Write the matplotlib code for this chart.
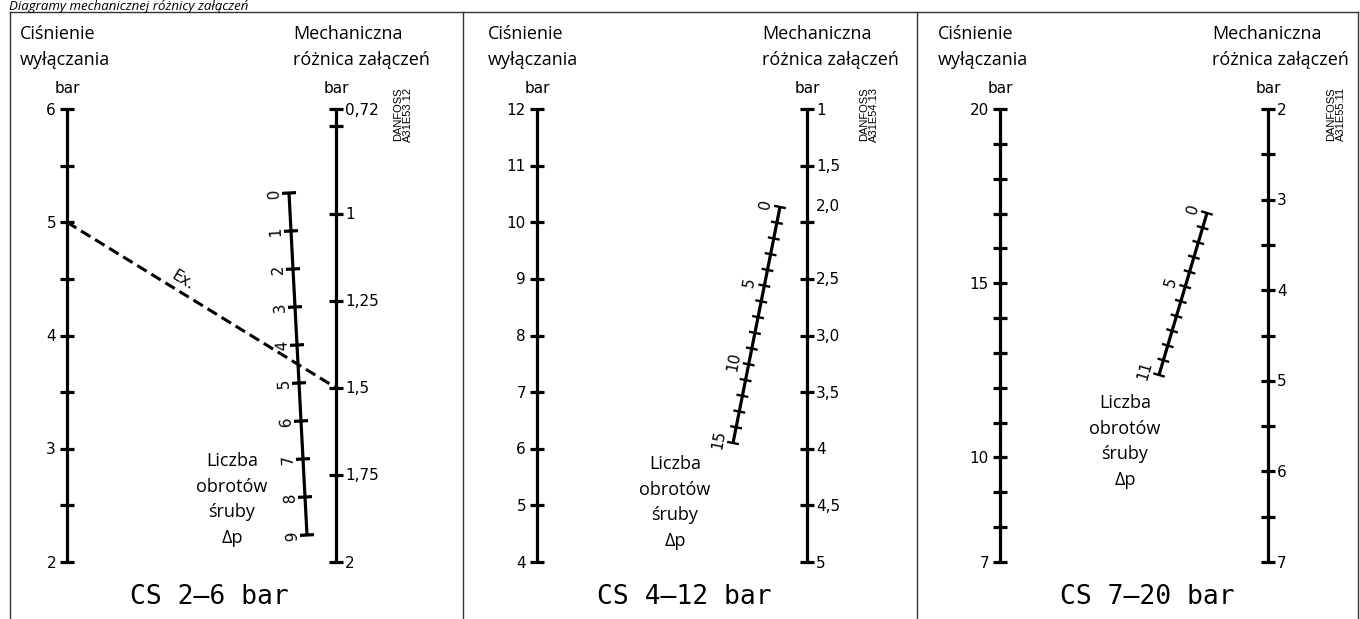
import numpy as np
import matplotlib
matplotlib.use('Agg')
import matplotlib.pyplot as plt

# ---------------- dane ----------------
title = 'Diagramy mechanicznej różnicy załączeń'
panel_titles = ['CS 2–6 bar', 'CS 4–12 bar', 'CS 7–20 bar']
drawing_no = ['A31E53.12', 'A31E54.13', 'A31E55.11']

# lewa skala: ciśnienie wyłączania [bar] (rośnie do góry)
left_range = [(2, 6), (4, 12), (7, 20)]
left_ticks = [
    [2, 2.5, 3, 3.5, 4, 4.5, 5, 5.5, 6],
    [4, 5, 6, 7, 8, 9, 10, 11, 12],
    [7, 8, 9, 10, 11, 12, 13, 14, 15, 16, 17, 18, 19, 20],
]
left_labels = [
    [2, 3, 4, 5, 6],
    [4, 5, 6, 7, 8, 9, 10, 11, 12],
    [7, 10, 15, 20],
]

# prawa skala: mechaniczna różnica załączeń [bar] (rośnie w dół)
# (w CS 2-6 górny koniec osi opisany jako 0,72)
right_range = [(0.70, 2.0), (1, 5), (2, 7)]
right_ticks = [
    [0.70, 0.75, 1, 1.25, 1.5, 1.75, 2],
    [1, 1.5, 2, 2.5, 3, 3.5, 4, 4.5, 5],
    [2, 2.5, 3, 3.5, 4, 4.5, 5, 5.5, 6, 6.5, 7],
]
right_label_vals = [
    [0.70, 1, 1.25, 1.5, 1.75, 2],
    [1, 1.5, 2, 2.5, 3, 3.5, 4, 4.5, 5],
    [2, 3, 4, 5, 6, 7],
]
right_label_txt = [
    ['0,72', '1', '1,25', '1,5', '1,75', '2'],
    ['1', '1,5', '2,0', '2,5', '3,0', '3,5', '4', '4,5', '5'],
    ['2', '3', '4', '5', '6', '7'],
]

# liczba obrotów śruby
screw_turns = [9, 15, 11]
screw_labels = [
    [0, 1, 2, 3, 4, 5, 6, 7, 8, 9],
    [0, 5, 10, 15],
    [0, 5, 11],
]

# przykład (Ex.)
ex_shutoff = 5.0
ex_diff = 1.5

# ---------------- rozkład (piksele) ----------------
W, H = 1360, 619
frame_x = [10, 463, 917, 1358]
frame_top = 12
left_x = [67, 537, 1000]
right_x = [336, 807, 1268]
ax_top, ax_bot = 109, 562
screw_end = [((289, 193), (307, 535)),
             ((780, 207), (733, 443)),
             ((1207, 213), (1159, 375))]
head_left_x = [20, 488, 938]
head_right_x = [293, 762, 1212]
liczba_pos = [(232, 466), (675, 469), (1125, 408)]
cs_x = [209, 684, 1147]
dan_pos = [(403, 114), (869, 114), (1336, 114)]

LW = 2.3
TICK = 7
sans = ['Open Sans', 'DejaVu Sans']
num_font = 'DejaVu Sans'
NUM_FS = 11
HEAD_FS = 13


def left_y(v, rng):
    return ax_bot - (v - rng[0]) / (rng[1] - rng[0]) * (ax_bot - ax_top)


def right_y(v, rng):
    return ax_top + (v - rng[0]) / (rng[1] - rng[0]) * (ax_bot - ax_top)


def num_base(y, fs=NUM_FS):
    # baseline tak, by środek cyfr wypadał na kresce
    return y + 0.365 * fs * 100 / 72


fig = plt.figure(figsize=(W / 100, H / 100), dpi=100)
ax = fig.add_axes([0, 0, 1, 1])
ax.set_xlim(0, W)
ax.set_ylim(H, 0)
ax.axis('off')

# ramka
ax.plot([frame_x[0], frame_x[-1]], [frame_top, frame_top], color='#333333', lw=1)
for fx in frame_x:
    ax.plot([fx, fx], [frame_top, H], color='#333333', lw=1)

ax.text(9, 10, title, fontsize=9.5, style='italic', family=sans, va='baseline', ha='left')

for i in range(3):
    lx, rx = left_x[i], right_x[i]

    # naglowki
    ax.text(head_left_x[i], 39, 'Ciśnienie', fontsize=HEAD_FS, family=sans, va='baseline')
    ax.text(head_left_x[i], 65, 'wyłączania', fontsize=HEAD_FS, family=sans, va='baseline')
    ax.text(head_right_x[i], 39, 'Mechaniczna', fontsize=HEAD_FS, family=sans, va='baseline')
    ax.text(head_right_x[i], 65, 'różnica załączeń', fontsize=HEAD_FS, family=sans, va='baseline')
    ax.text(lx, 93, 'bar', fontsize=NUM_FS, family=num_font, ha='center', va='baseline')
    ax.text(rx, 93, 'bar', fontsize=NUM_FS, family=num_font, ha='center', va='baseline')

    # lewa os
    ax.plot([lx, lx], [ax_top, ax_bot], color='k', lw=LW, solid_capstyle='butt')
    ty = [left_y(v, left_range[i]) for v in left_ticks[i]]
    ax.hlines(ty, lx - TICK, lx + TICK, color='k', lw=LW)
    for v in left_labels[i]:
        ax.text(lx - 11, num_base(left_y(v, left_range[i])), str(v), fontsize=NUM_FS,
                family=num_font, ha='right', va='baseline')

    # prawa os
    ax.plot([rx, rx], [ax_top, ax_bot], color='k', lw=LW, solid_capstyle='butt')
    ty = [right_y(v, right_range[i]) for v in right_ticks[i]]
    ax.hlines(ty, rx - TICK, rx + TICK, color='k', lw=LW)
    for v, t in zip(right_label_vals[i], right_label_txt[i]):
        y = right_y(v, right_range[i])
        if t == '2,0':
            y -= 17  # opis przesuniety w gore na oryginale
        ax.text(rx + 9, num_base(y), t, fontsize=NUM_FS, family=num_font,
                ha='left', va='baseline')

    # skala obrotow sruby
    p0 = np.array(screw_end[i][0], dtype=float)
    pn = np.array(screw_end[i][1], dtype=float)
    n = screw_turns[i]
    ax.plot([p0[0], pn[0]], [p0[1], pn[1]], color='k', lw=LW, solid_capstyle='butt')
    u = (p0 - pn) / np.linalg.norm(p0 - pn)
    perp = np.array([u[1], -u[0]])   # w lewo od kierunku czytania
    ang = np.degrees(np.arctan2(-u[1], u[0]))
    tl = 7 if n < 10 else 6
    tlw = LW if n < 10 else 1.7
    for k in range(n + 1):
        p = p0 + k / n * (pn - p0)
        ax.plot([p[0] - tl * perp[0], p[0] + tl * perp[0]],
                [p[1] - tl * perp[1], p[1] + tl * perp[1]], color='k', lw=tlw,
                solid_capstyle='butt')
    for k in screw_labels[i]:
        p = p0 + k / n * (pn - p0) + 15 * perp
        ax.text(p[0], p[1], str(k), fontsize=NUM_FS, family=num_font, rotation=ang,
                rotation_mode='anchor', ha='center', va='center')

    # opis skali sruby
    cx, cy = liczba_pos[i]
    for j, s in enumerate(['Liczba', 'obrotów', 'śruby', 'Δp']):
        ax.text(cx, cy + j * 25.6, s, fontsize=HEAD_FS, family=sans, ha='center', va='baseline')

    ax.text(cs_x[i], 597, panel_titles[i], fontsize=19, family='DejaVu Sans Mono',
            ha='center', va='center')

    dx, dy = dan_pos[i]
    ax.text(dx, dy, 'DANFOSS\n' + drawing_no[i], fontsize=8,
            family=['Liberation Sans Narrow', 'Liberation Sans'], rotation=90,
            ha='center', va='center', linespacing=0.9)

# linia przykladu
ya = left_y(ex_shutoff, left_range[0])
yb = right_y(ex_diff, right_range[0])
ax.plot([left_x[0], right_x[0]], [ya, yb], color='k', lw=2.2, ls=(0, (3.6, 1.8)))
d = np.array([right_x[0] - left_x[0], yb - ya])
d = d / np.linalg.norm(d)
ang = np.degrees(np.arctan2(-d[1], d[0]))
pe = np.array([left_x[0], ya]) + 0.41 * (np.array([right_x[0], yb]) - np.array([left_x[0], ya]))
pe = pe + 11 * np.array([d[1], -d[0]])
ax.text(pe[0], pe[1], 'Ex.', fontsize=NUM_FS, family=num_font, rotation=ang,
        rotation_mode='anchor', ha='center', va='center')

fig.savefig('out.png', dpi=100)
